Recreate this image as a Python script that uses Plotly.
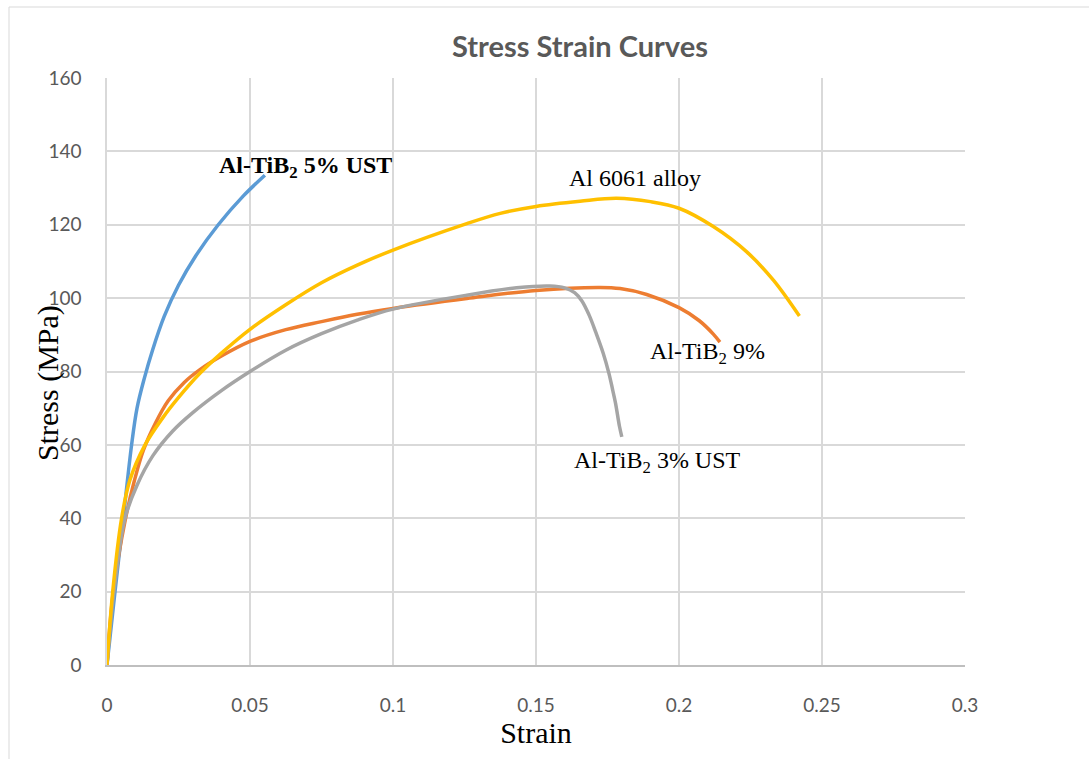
import plotly.graph_objects as go

# Al-TiB2 5% UST (blue)
blue_x = [0, 0.0028, 0.0057, 0.0086, 0.0105, 0.0130, 0.0160, 0.0200, 0.025, 0.031, 0.0389, 0.0476, 0.0552]
blue_y = [0, 20, 40, 60, 70, 78, 86, 95, 103.5, 111.5, 120, 127.8, 133.5]

# Al-TiB2 9% (orange)
orange_x = [0, 0.0022, 0.0065, 0.0095, 0.0127, 0.017, 0.0214, 0.027, 0.0325, 0.04, 0.05, 0.0625, 0.075, 0.0875, 0.1, 0.1258, 0.15, 0.1724, 0.1794, 0.1887, 0.2, 0.207, 0.212, 0.2143]
orange_y = [0, 20, 40, 50, 58.5, 66, 72, 77, 80.5, 84.2, 88.2, 91.4, 93.6, 95.6, 97.2, 99.9, 102.1, 102.9, 102.6, 101, 97.4, 93.9, 90.2, 88]

# Al-TiB2 3% UST (gray)
gray_x = [0, 0.0024, 0.0063, 0.0105, 0.016, 0.023, 0.03, 0.04, 0.05, 0.0625, 0.075, 0.0875, 0.1, 0.1258, 0.1432, 0.1549, 0.16, 0.1635, 0.166, 0.1685, 0.171, 0.1735, 0.1755, 0.1768, 0.1778, 0.1792, 0.18]
gray_y = [0, 20, 40, 49, 57, 63.8, 68.8, 74.8, 80, 85.8, 90.3, 94, 97, 100.8, 102.8, 103.3, 102.8, 101.5, 99.3, 95.5, 90.5, 85, 79.5, 75, 71.4, 65, 62.2]

# Al 6061 alloy (yellow)
yellow_x = [0, 0.002, 0.0051, 0.008, 0.0133, 0.0196, 0.0249, 0.0325, 0.04, 0.05, 0.0625, 0.075, 0.0875, 0.1, 0.1258, 0.1375, 0.15, 0.1654, 0.1782, 0.19, 0.2, 0.212, 0.2237, 0.233, 0.2421]
yellow_y = [0, 20, 40, 50.4, 60, 67.5, 72.8, 79.5, 85, 91.5, 98.2, 104.2, 109, 113.1, 120.3, 123.1, 125.0, 126.4, 127.2, 126.3, 124.5, 119.5, 112.6, 104.9, 95.1]

x_ticks = [0, 0.05, 0.1, 0.15, 0.2, 0.25, 0.3]
x_tick_labels = ["0", "0.05", "0.1", "0.15", "0.2", "0.25", "0.3"]
y_ticks = [0, 20, 40, 60, 80, 100, 120, 140, 160]

fig = go.Figure()
series = [
    ("Al-TiB2 5% UST", blue_x, blue_y, "#5B9BD5"),
    ("Al-TiB2 9%", orange_x, orange_y, "#ED7D31"),
    ("Al-TiB2 3% UST", gray_x, gray_y, "#A5A5A5"),
    ("Al 6061 alloy", yellow_x, yellow_y, "#FFC000"),
]
for name, xs, ys, col in series:
    fig.add_trace(go.Scatter(x=xs, y=ys, mode="lines", name=name,
                             line=dict(color=col, width=3.5, shape="spline", smoothing=1.0)))

serif = "Liberation Serif"
ann_font = dict(family=serif, size=24, color="black")
annotations = [
    dict(x=0.0385, y=135.7, text="<b>Al-TiB<sub>2</sub> 5% UST</b>"),
    dict(x=0.1608, y=132.7, text="Al 6061 alloy"),
    dict(x=0.1892, y=85, text="Al-TiB<sub>2</sub> 9%"),
    dict(x=0.1626, y=55.3, text="Al-TiB<sub>2</sub> 3% UST"),
]
for a in annotations:
    a.update(xref="x", yref="y", xanchor="left", yanchor="middle", showarrow=False, font=ann_font)

# outer chart border
L, R, T, B = 107, 965, 78, 665
W, H = R - L, B - T
def px2paper_x(p): return (p - L) / W
def px2paper_y(p): return (B - p) / H

fig.add_shape(type="rect", xref="paper", yref="paper",
              x0=px2paper_x(9), x1=px2paper_x(1100), y0=px2paper_y(770), y1=px2paper_y(7),
              line=dict(color="#D9D9D9", width=1), layer="below")

fig.update_layout(
    width=1089, height=759,
    margin=dict(l=L, r=1089 - R, t=T, b=759 - B),
    paper_bgcolor="white", plot_bgcolor="white",
    showlegend=False,
    title=dict(text="<b>Stress Strain Curves</b>", x=px2paper_x(580), xref="paper", xanchor="center",
               y=1 - 47 / 759, yanchor="middle",
               font=dict(family="Lato", size=29, color="#595959")),
    annotations=annotations,
    xaxis=dict(range=[0, 0.3], tickvals=x_ticks, ticktext=x_tick_labels,
               showgrid=True, gridcolor="#D9D9D9", gridwidth=1.5,
               showline=True, linecolor="#BFBFBF", linewidth=1.5,
               zeroline=False, ticks="", ticklabelstandoff=22,
               tickfont=dict(family="Lato", size=19, color="#595959"),
               title=dict(text="Strain", font=dict(family=serif, size=30, color="black"), standoff=3)),
    yaxis=dict(range=[0, 160], tickvals=y_ticks,
               showgrid=True, gridcolor="#D9D9D9", gridwidth=1.5,
               showline=True, linecolor="#D9D9D9", linewidth=1.5,
               zeroline=False, ticks="", ticklabelstandoff=20,
               tickfont=dict(family="Lato", size=19, color="#595959")),
)
# y title placed as annotation to overlap tick labels like the reference
fig.add_annotation(x=px2paper_x(48), y=px2paper_y(383), xref="paper", yref="paper",
                   text="Stress (MPa)", textangle=-90, showarrow=False,
                   xanchor="center", yanchor="middle",
                   font=dict(family=serif, size=30, color="black"))

fig.write_html("out.html")
